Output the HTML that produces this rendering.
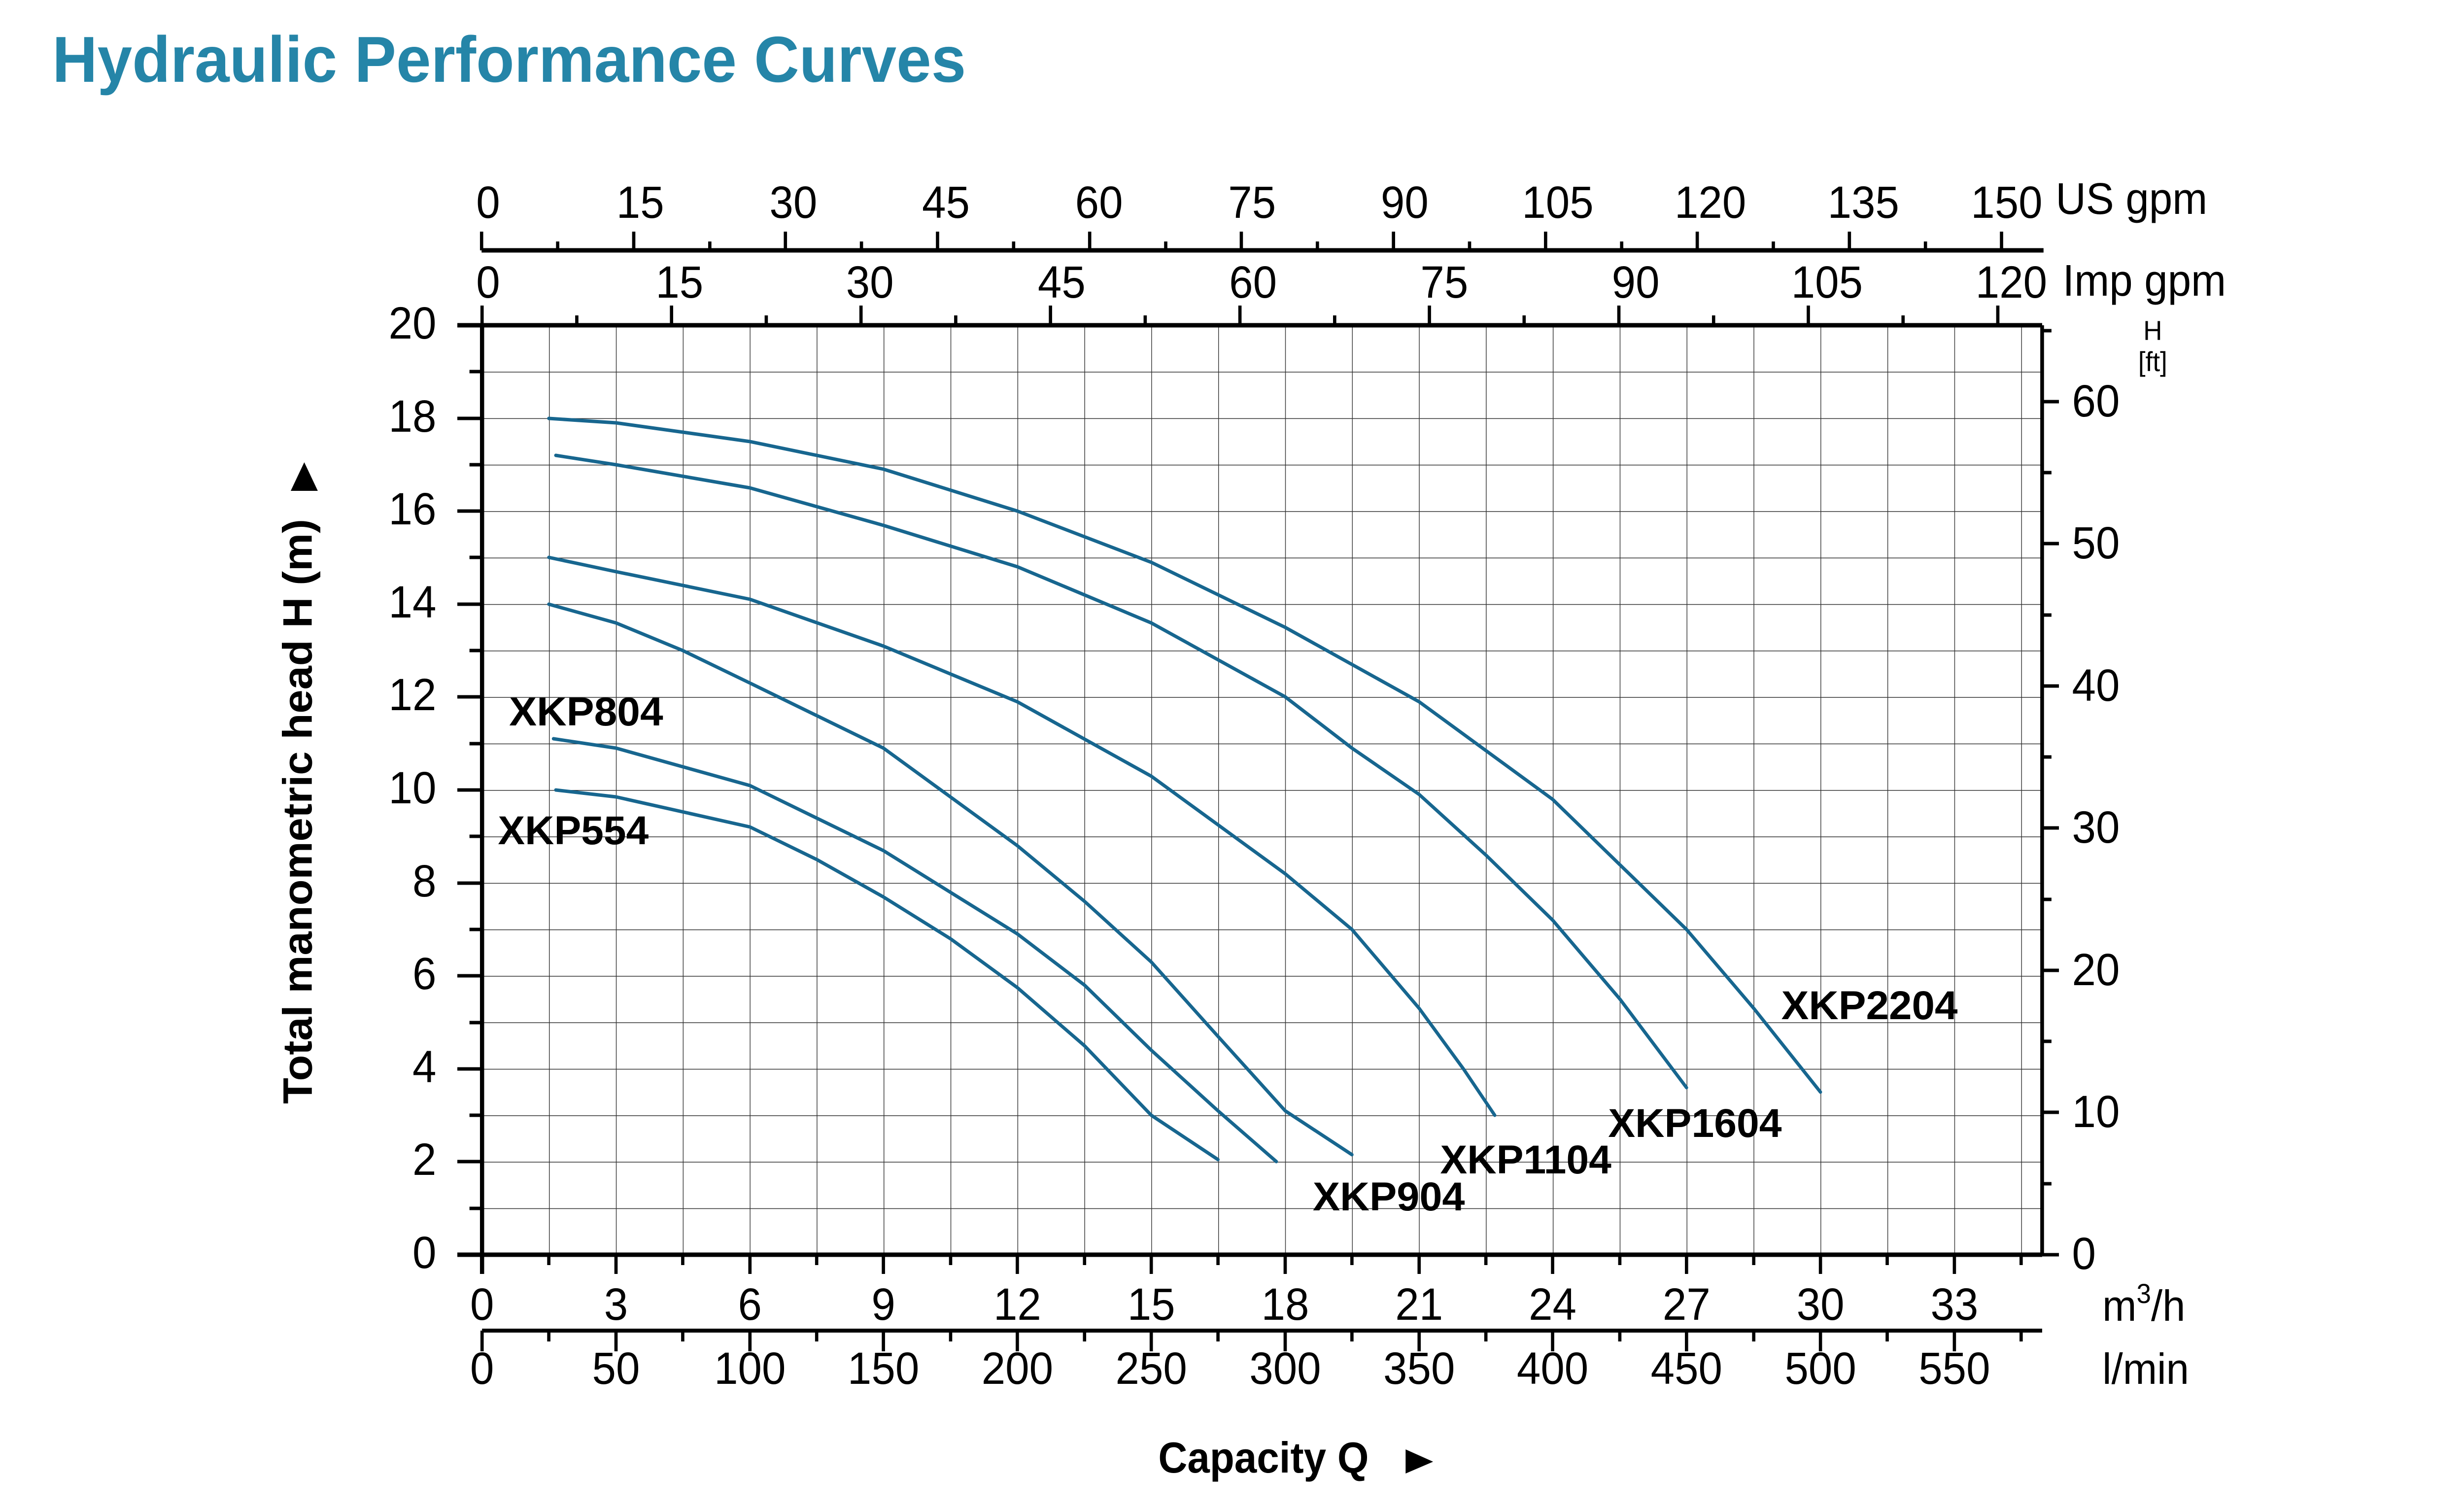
<!DOCTYPE html>
<html><head><meta charset="utf-8"><style>
html,body{margin:0;padding:0;background:#fff;width:100%;height:100%;overflow:hidden;}
svg{display:block;position:absolute;left:0;top:0;width:100vw;height:100vh;}
text{font-family:"Liberation Sans",Arial,sans-serif;}
</style></head><body>
<svg viewBox="0 0 5280 3064" preserveAspectRatio="none" xmlns="http://www.w3.org/2000/svg">
<rect width="5280" height="3064" fill="#fff"/>
<defs>
<pattern id="g" x="1033" y="660" width="143.4" height="94.3" patternUnits="userSpaceOnUse">
<path d="M0 0 V94.3 M0 0 H143.4" stroke="#333" stroke-width="3" fill="none"/>
</pattern>
</defs>
<text x="112" y="166" font-size="132" font-weight="bold" fill="#2585a8" textLength="1958" lengthAdjust="spacingAndGlyphs">Hydraulic Performance Curves</text>

<rect x="1033" y="660" width="3343" height="1886" fill="url(#g)"/>
<g stroke="#000" fill="none">
<path d="M980 660 H4376" stroke-width="9"/>
<path d="M980 2546 H4376" stroke-width="9"/>
<path d="M1033 660 V2585" stroke-width="9"/>
<path d="M4376 660 V2546" stroke-width="8"/>
</g>
<g stroke="#000" stroke-width="7">
<path d="M980 849H1033M980 1037H1033M980 1226H1033M980 1414H1033M980 1603H1033M980 1792H1033M980 1980H1033M980 2169H1033M980 2357H1033"/>
<path d="M1006 754H1033M1006 943H1033M1006 1131H1033M1006 1320H1033M1006 1509H1033M1006 1697H1033M1006 1886H1033M1006 2075H1033M1006 2263H1033M1006 2452H1033"/>
</g>
<g font-size="92" text-anchor="end" fill="#000">
<text x="935" y="2573">0</text><text x="935" y="2384">2</text><text x="935" y="2196">4</text><text x="935" y="2007">6</text><text x="935" y="1819">8</text><text x="935" y="1630">10</text><text x="935" y="1441">12</text><text x="935" y="1253">14</text><text x="935" y="1064">16</text><text x="935" y="876">18</text><text x="935" y="687">20</text>
</g>
<g stroke="#000" stroke-width="7">
<path d="M4376 2546H4412M4376 2257H4412M4376 1969H4412M4376 1680H4412M4376 1392H4412M4376 1103H4412M4376 815H4412"/>
<path d="M4376 2402H4396M4376 2113H4396M4376 1825H4396M4376 1536H4396M4376 1248H4396M4376 959H4396M4376 671H4396"/>
</g>
<g font-size="92" fill="#000">
<text x="4440" y="2575">0</text><text x="4440" y="2287">10</text><text x="4440" y="1999">20</text><text x="4440" y="1710">30</text><text x="4440" y="1422">40</text><text x="4440" y="1133">50</text><text x="4440" y="845">60</text>
</g>
<text x="4613" y="690" font-size="56" text-anchor="middle">H</text>
<text x="4613" y="753" font-size="56" text-anchor="middle">[ft]</text>

<g stroke="#000" stroke-width="7">
<path d="M1320 2546V2585M1607 2546V2585M1893 2546V2585M2180 2546V2585M2467 2546V2585M2754 2546V2585M3041 2546V2585M3327 2546V2585M3614 2546V2585M3901 2546V2585M4188 2546V2585"/>
<path d="M1176 2546V2567M1463 2546V2567M1750 2546V2567M2037 2546V2567M2324 2546V2567M2610 2546V2567M2897 2546V2567M3184 2546V2567M3471 2546V2567M3758 2546V2567M4044 2546V2567M4331 2546V2567"/>
<path d="M1033 2700H4376" stroke-width="8"/>
<path d="M1033 2700V2742M1320 2700V2742M1607 2700V2742M1893 2700V2742M2180 2700V2742M2467 2700V2742M2754 2700V2742M3041 2700V2742M3327 2700V2742M3614 2700V2742M3901 2700V2742M4188 2700V2742"/>
<path d="M1176 2700V2722M1463 2700V2722M1750 2700V2722M2037 2700V2722M2324 2700V2722M2610 2700V2722M2897 2700V2722M3184 2700V2722M3471 2700V2722M3758 2700V2722M4044 2700V2722M4331 2700V2722"/>
</g>
<g font-size="92" text-anchor="middle" fill="#000">
<text x="1033" y="2678">0</text><text x="1320" y="2678">3</text><text x="1607" y="2678">6</text><text x="1893" y="2678">9</text><text x="2180" y="2678">12</text><text x="2467" y="2678">15</text><text x="2754" y="2678">18</text><text x="3041" y="2678">21</text><text x="3327" y="2678">24</text><text x="3614" y="2678">27</text><text x="3901" y="2678">30</text><text x="4188" y="2678">33</text>
<text x="1033" y="2808">0</text><text x="1320" y="2808">50</text><text x="1607" y="2808">100</text><text x="1893" y="2808">150</text><text x="2180" y="2808">200</text><text x="2467" y="2808">250</text><text x="2754" y="2808">300</text><text x="3041" y="2808">350</text><text x="3327" y="2808">400</text><text x="3614" y="2808">450</text><text x="3901" y="2808">500</text><text x="4188" y="2808">550</text>
</g>
<text x="4505" y="2680" font-size="88">m<tspan font-size="56" dy="-36">3</tspan><tspan dy="36">/h</tspan></text>
<text x="4505" y="2808" font-size="88">l/min</text>

<g stroke="#000" stroke-width="7">
<path d="M1032 508H4379" stroke-width="9"/>
<path d="M1032 508V470M1358 508V470M1683 508V470M2009 508V470M2335 508V470M2660 508V470M2986 508V470M3312 508V470M3637 508V470M3963 508V470M4289 508V470"/>
<path d="M1195 508V490M1521 508V490M1846 508V490M2172 508V490M2498 508V490M2823 508V490M3149 508V490M3475 508V490M3800 508V490M4126 508V490"/>
<path d="M1033 660V620M1439 660V620M1845 660V620M2251 660V620M2657 660V620M3063 660V620M3469 660V620M3875 660V620M4281 660V620"/>
<path d="M1236 660V640M1642 660V640M2048 660V640M2454 660V640M2860 660V640M3266 660V640M3672 660V640M4078 660V640"/>
</g>
<g font-size="92" text-anchor="middle" fill="#000">
<text x="1046" y="442">0</text><text x="1372" y="442">15</text><text x="1700" y="442">30</text><text x="2027" y="442">45</text><text x="2355" y="442">60</text><text x="2683" y="442">75</text><text x="3010" y="442">90</text><text x="3338" y="442">105</text><text x="3665" y="442">120</text><text x="3993" y="442">135</text><text x="4300" y="442">150</text>
<text x="1046" y="604">0</text><text x="1456" y="604">15</text><text x="1864" y="604">30</text><text x="2275" y="604">45</text><text x="2685" y="604">60</text><text x="3095" y="604">75</text><text x="3505" y="604">90</text><text x="3915" y="604">105</text><text x="4310" y="604">120</text>
</g>
<text x="4405" y="434" font-size="90">US gpm</text>
<text x="4420" y="600" font-size="90">Imp gpm</text>

<g fill="none" stroke="#17668f" stroke-width="7" stroke-linejoin="round" stroke-linecap="round">
<polyline points="1176,849 1320,858 1607,896 1893,952 2180,1037 2467,1141 2754,1273 3041,1424 3327,1622 3614,1886 3758,2046 3901,2216"/>
<polyline points="1191,924 1320,943 1607,990 1893,1066 2180,1150 2467,1264 2754,1414 2897,1518 3041,1612 3184,1735 3327,1867 3471,2027 3614,2207"/>
<polyline points="1176,1131 1320,1160 1607,1216 1893,1311 2180,1424 2467,1575 2754,1773 2897,1886 3041,2046 3136,2169 3203,2263"/>
<polyline points="1176,1226 1320,1264 1463,1320 1607,1386 1893,1518 2180,1716 2324,1829 2467,1952 2610,2103 2754,2254 2897,2343"/>
<polyline points="1186,1499 1320,1518 1607,1594 1893,1726 2180,1895 2324,1999 2467,2131 2610,2254 2735,2357"/>
<polyline points="1191,1603 1320,1617 1607,1678 1750,1744 1893,1820 2037,1905 2180,2004 2324,2122 2467,2263 2610,2353"/>
</g>

<g font-size="82" font-weight="bold" fill="#000">
<text x="1091" y="1472" textLength="330" lengthAdjust="spacingAndGlyphs">XKP804</text>
<text x="1067" y="1713" textLength="323" lengthAdjust="spacingAndGlyphs">XKP554</text>
<text x="3817" y="2068" textLength="378" lengthAdjust="spacingAndGlyphs">XKP2204</text>
<text x="3446" y="2307" textLength="372" lengthAdjust="spacingAndGlyphs">XKP1604</text>
<text x="3086" y="2381" textLength="367" lengthAdjust="spacingAndGlyphs">XKP1104</text>
<text x="2813" y="2456" textLength="326" lengthAdjust="spacingAndGlyphs">XKP904</text>
</g>

<text transform="translate(668,2240) rotate(-90)" font-size="88" font-weight="bold" textLength="1187" lengthAdjust="spacingAndGlyphs">Total manometric head H (m)</text>
<polygon points="623,996 681,996 652,938" fill="#000"/>
<text x="2482" y="2988" font-size="88" font-weight="bold" textLength="451" lengthAdjust="spacingAndGlyphs">Capacity Q</text>
<polygon points="3012,2941 3012,2990 3071,2966" fill="#000"/>
</svg>
</body></html>
